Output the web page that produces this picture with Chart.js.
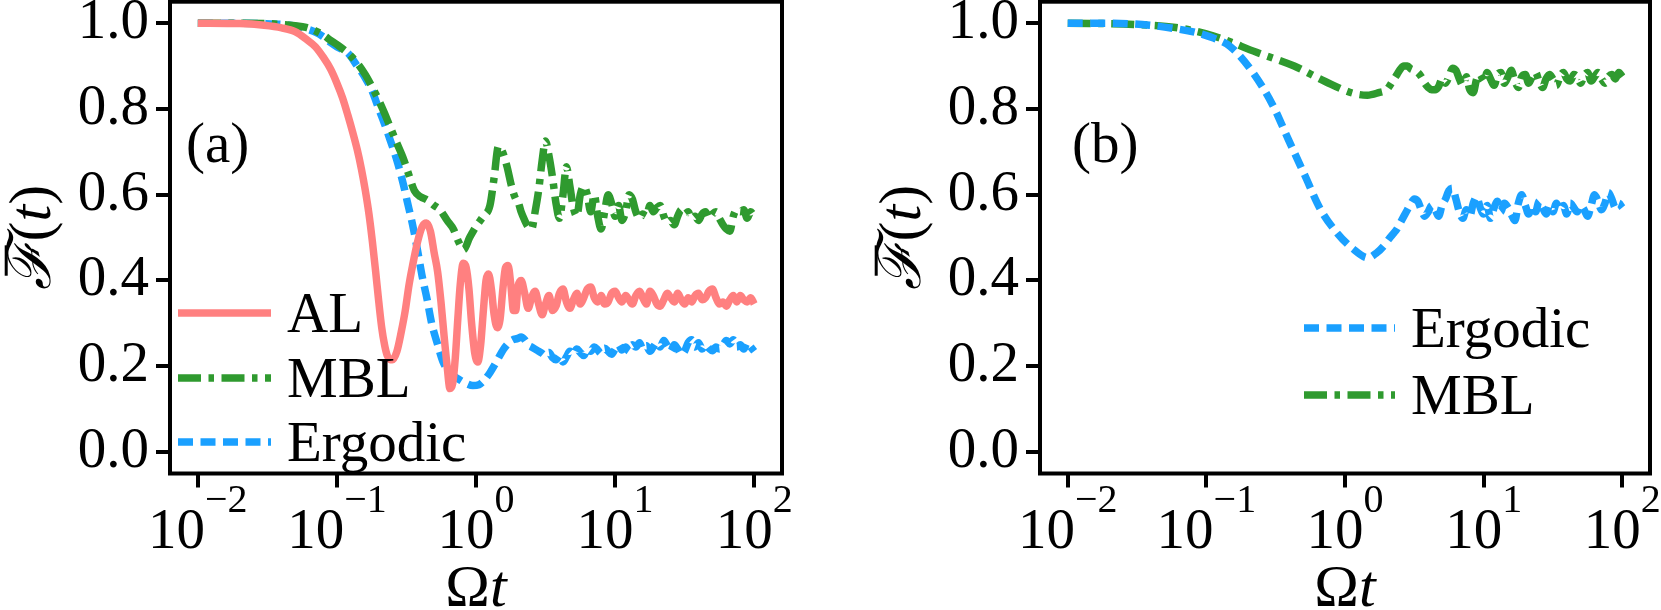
<!DOCTYPE html>
<html><head><meta charset="utf-8">
<script src="https://cdn.jsdelivr.net/npm/chart.js@4.4.1/dist/chart.umd.min.js"></script>
<style>
html,body{margin:0;padding:0;background:#fff;}
#wrap{position:relative;width:1661px;height:610px;overflow:hidden;background:#fff;}
canvas{position:absolute;top:0;}
</style></head><body>
<div id="wrap">
<canvas id="ca" width="830" height="610" style="left:0;width:830px;height:610px"></canvas>
<canvas id="cb" width="831" height="610" style="left:830px;width:831px;height:610px"></canvas>
</div>
<script>
// ---------- data ----------
const xTickValues = [0.01, 0.1, 1, 10, 100];
const yTickValues = [0.0, 0.2, 0.4, 0.6, 0.8, 1.0];

// common late-time sampling of Ωt (2 … 100)
const lateT = [2.0,2.11,2.24,2.37,2.51,2.66,2.82,2.99,3.16,3.35,3.55,3.76,3.98,4.22,4.47,4.73,5.01,5.31,5.62,5.96,6.31,6.68,7.08,7.5,7.94,8.41,8.91,9.44,10,10.6,11.2,11.9,12.6,13.3,14.1,15.0,15.8,16.8,17.8,18.8,20.0,21.1,22.4,23.7,25.1,26.6,28.2,29.9,31.6,33.5,35.5,37.6,39.8,42.2,44.7,47.3,50.1,53.1,56.2,59.6,63.1,66.8,70.8,75.0,79.4,84.1,89.1,94.4,100];

// panel (a) AL
const alEarlyT = [0.01,0.02,0.03,0.04,0.05,0.06,0.07,0.08,0.09,0.1,0.11,0.12,0.13,0.14,0.15,0.16,0.17,0.18,0.19,0.2,0.21,0.22,0.23,0.24,0.25,0.27,0.29,0.31,0.33,0.35,0.38,0.41,0.44,0.47,0.5,0.53,0.56,0.59,0.62,0.65,0.68,0.71,0.74,0.77,0.81,0.85,0.89,0.93,0.98,1.03,1.08,1.13,1.18,1.23,1.29,1.35,1.42,1.49,1.56,1.63,1.7,1.78,1.86,1.93];
const alEarlyF = [1.0,0.999,0.995,0.989,0.98,0.963,0.945,0.92,0.893,0.86,0.825,0.785,0.745,0.705,0.66,0.61,0.555,0.49,0.42,0.35,0.29,0.25,0.225,0.216,0.215,0.235,0.28,0.33,0.39,0.435,0.49,0.525,0.534,0.515,0.465,0.42,0.35,0.27,0.2,0.148,0.16,0.22,0.31,0.39,0.44,0.43,0.38,0.3,0.23,0.21,0.25,0.33,0.4,0.415,0.38,0.32,0.29,0.31,0.38,0.43,0.435,0.39,0.33,0.33];
const alLateF = [0.385,0.40,0.37,0.335,0.36,0.375,0.345,0.32,0.345,0.365,0.33,0.34,0.37,0.38,0.35,0.335,0.355,0.37,0.345,0.36,0.38,0.385,0.36,0.35,0.365,0.345,0.35,0.37,0.375,0.36,0.35,0.365,0.355,0.345,0.365,0.375,0.36,0.345,0.375,0.365,0.345,0.34,0.355,0.37,0.36,0.35,0.37,0.355,0.345,0.36,0.35,0.365,0.37,0.355,0.36,0.375,0.38,0.36,0.345,0.35,0.34,0.355,0.365,0.35,0.365,0.355,0.35,0.36,0.345];

// panel (a) MBL
const mblAEarlyT = [0.01,0.02,0.03,0.04,0.05,0.06,0.07,0.08,0.09,0.1,0.12,0.14,0.16,0.18,0.2,0.22,0.24,0.27,0.3,0.33,0.36,0.4,0.445,0.5,0.55,0.62,0.69,0.75,0.815,0.9,1.0,1.13,1.26,1.35,1.45,1.55,1.67,1.8,1.93];
const mblAEarlyF = [1.0,1.0,0.999,0.997,0.994,0.99,0.982,0.972,0.96,0.95,0.93,0.907,0.88,0.85,0.82,0.79,0.76,0.72,0.685,0.645,0.61,0.595,0.588,0.575,0.565,0.54,0.519,0.49,0.472,0.5,0.526,0.55,0.575,0.64,0.713,0.7,0.666,0.62,0.59];
const mblALateF = [0.585,0.56,0.54,0.525,0.52,0.56,0.61,0.68,0.725,0.69,0.64,0.58,0.545,0.6,0.665,0.62,0.57,0.55,0.6,0.62,0.6,0.56,0.6,0.55,0.52,0.56,0.6,0.58,0.55,0.575,0.54,0.56,0.6,0.59,0.56,0.545,0.555,0.55,0.575,0.56,0.57,0.575,0.55,0.535,0.54,0.53,0.55,0.565,0.555,0.56,0.545,0.55,0.54,0.555,0.56,0.545,0.555,0.56,0.545,0.53,0.52,0.515,0.55,0.565,0.56,0.565,0.545,0.56,0.55];

// panel (a) Ergodic
const ergAEarlyT = [0.01,0.02,0.03,0.04,0.05,0.06,0.07,0.08,0.09,0.1,0.12,0.14,0.16,0.18,0.2,0.22,0.24,0.27,0.3,0.32,0.35,0.38,0.41,0.445,0.48,0.525,0.58,0.65,0.75,0.85,0.95,1.05,1.15,1.26,1.4,1.58,1.8];
const ergAEarlyF = [1.0,1.0,0.999,0.997,0.993,0.987,0.979,0.968,0.955,0.945,0.93,0.9,0.872,0.84,0.8,0.765,0.73,0.68,0.625,0.585,0.53,0.47,0.41,0.356,0.3,0.255,0.21,0.185,0.17,0.16,0.155,0.157,0.168,0.185,0.21,0.24,0.26];
const ergALateF = [0.265,0.268,0.262,0.25,0.245,0.24,0.235,0.23,0.225,0.232,0.22,0.215,0.225,0.21,0.222,0.235,0.228,0.24,0.232,0.225,0.24,0.235,0.245,0.238,0.23,0.242,0.235,0.228,0.24,0.25,0.238,0.245,0.235,0.25,0.245,0.255,0.24,0.248,0.235,0.245,0.255,0.245,0.26,0.248,0.235,0.25,0.24,0.228,0.235,0.255,0.262,0.245,0.255,0.24,0.25,0.242,0.236,0.245,0.24,0.25,0.26,0.252,0.262,0.245,0.25,0.24,0.255,0.245,0.235];

// panel (b) Ergodic
const ergBEarlyT = [0.01,0.02,0.039,0.06,0.087,0.113,0.148,0.21,0.3,0.39,0.51,0.665,0.87,1.13,1.47,1.7,1.92];
const ergBEarlyF = [1.0,1.0,0.995,0.987,0.977,0.965,0.946,0.891,0.81,0.729,0.647,0.566,0.512,0.475,0.453,0.465,0.482];
const ergBLateF = [0.49,0.50,0.51,0.52,0.535,0.55,0.565,0.58,0.59,0.585,0.565,0.55,0.56,0.575,0.565,0.55,0.575,0.59,0.61,0.615,0.59,0.56,0.545,0.565,0.55,0.58,0.595,0.57,0.555,0.575,0.545,0.57,0.585,0.56,0.58,0.57,0.555,0.54,0.58,0.6,0.575,0.555,0.575,0.56,0.585,0.57,0.555,0.575,0.56,0.58,0.565,0.575,0.555,0.58,0.57,0.56,0.575,0.565,0.55,0.575,0.6,0.585,0.565,0.58,0.605,0.59,0.57,0.58,0.57];

// panel (b) MBL
const mblBEarlyT = [0.01,0.03,0.06,0.113,0.23,0.43,0.72,1.13,1.45,1.75];
const mblBEarlyF = [1.0,0.997,0.99,0.97,0.932,0.9,0.864,0.837,0.832,0.838];
const mblBLateF = [0.845,0.855,0.868,0.88,0.893,0.9,0.9,0.893,0.89,0.885,0.875,0.86,0.85,0.845,0.845,0.852,0.87,0.86,0.875,0.895,0.89,0.87,0.855,0.875,0.845,0.838,0.87,0.88,0.865,0.885,0.87,0.855,0.88,0.885,0.86,0.875,0.89,0.865,0.85,0.875,0.88,0.86,0.875,0.885,0.865,0.85,0.87,0.88,0.87,0.855,0.875,0.885,0.87,0.865,0.88,0.875,0.86,0.878,0.885,0.865,0.875,0.885,0.87,0.86,0.875,0.88,0.87,0.885,0.875];

// ---------- styles ----------
const COL_AL = '#ff8080', COL_MBL = '#2f9a2f', COL_ERG = '#1aa0ff';
const LW = 7.5;
const DASH_ERG = [15, 7.5];
const DASH_MBL = [23, 7.5, 5.5, 7.5];
const FONT = '"Liberation Serif", "DejaVu Serif", serif';

function pts(t, f) { return t.map((v, i) => ({x: v, y: f[i]})); }
function ds(label, t, f, color, dash) {
  return {label, data: pts(t, f), borderColor: color, borderWidth: LW, borderDash: dash,
    borderCapStyle: 'butt', borderJoinStyle: 'round',
    pointRadius: 0, fill: false, cubicInterpolationMode: 'monotone'};
}

const decor = {
  id: 'decor',
  afterDraw(chart, args, o) {
    const ctx = chart.ctx, ca = chart.chartArea, xs = chart.scales.x;
    ctx.save();
    ctx.strokeStyle = '#000'; ctx.lineWidth = 4; ctx.setLineDash([]);
    ctx.strokeRect(ca.left, ca.top, ca.right - ca.left, ca.bottom - ca.top);
    ctx.fillStyle = '#000'; ctx.textBaseline = 'alphabetic'; ctx.textAlign = 'left';
    // x tick labels 10^n
    for (const t of xs.ticks) {
      const px = xs.getPixelForValue(t.value);
      const e = Math.round(Math.log10(t.value));
      const base = '10', sup = (e < 0 ? '\u2212' : '') + Math.abs(e);
      ctx.font = o.fs + 'px ' + FONT; const wb = ctx.measureText(base).width;
      ctx.font = o.sfs + 'px ' + FONT; const ws = ctx.measureText(sup).width;
      const x0 = px - (wb + ws) / 2;
      ctx.font = o.fs + 'px ' + FONT; ctx.fillText(base, x0, o.xLabBase);
      ctx.font = o.sfs + 'px ' + FONT; ctx.fillText(sup, x0 + wb, o.supBase);
    }
    // x title: Ωt
    {
      const cx = (ca.left + ca.right) / 2;
      ctx.font = o.tfs + 'px ' + FONT; const w1 = ctx.measureText('\u03A9').width;
      ctx.font = 'italic ' + o.tfs + 'px ' + FONT; const w2 = ctx.measureText('t').width;
      const x0 = cx - (w1 + w2) / 2;
      ctx.font = o.tfs + 'px ' + FONT; ctx.fillText('\u03A9', x0, o.xTitleBase);
      ctx.font = 'italic ' + o.tfs + 'px ' + FONT; ctx.fillText('t', x0 + w1, o.xTitleBase);
    }
    // y title: F̄(t)
    {
      const cy = (ca.top + ca.bottom) / 2;
      ctx.save();
      ctx.translate(ca.left - o.yTitleOff, cy);
      ctx.rotate(-Math.PI / 2);
      const parts = [['\u2131', 'italic '], ['(', ''], ['t', 'italic '], [')', '']];
      let tot = 0; const ws = [];
      for (const [s, st] of parts) { ctx.font = st + o.tfs + 'px ' + FONT; const w = ctx.measureText(s).width; ws.push(w); tot += w; }
      let x = -tot / 2;
      // overbar of F
      ctx.fillRect(x + ws[0] * 0.3, -0.755 * o.tfs, ws[0] * 0.62, 3);
      parts.forEach(([s, st], i) => { ctx.font = st + o.tfs + 'px ' + FONT; ctx.fillText(s, x, 0); x += ws[i]; });
      ctx.restore();
    }
    // panel label
    ctx.font = o.fs + 'px ' + FONT;
    ctx.fillText(o.panel, o.panelX, o.panelBase);
    // legend
    chart.data.datasets.forEach((d, i) => {
      const y = o.legY[i];
      ctx.save();
      ctx.strokeStyle = d.borderColor; ctx.lineWidth = LW;
      ctx.setLineDash(d.borderDash); ctx.lineCap = 'butt';
      ctx.beginPath(); ctx.moveTo(o.legX0, y); ctx.lineTo(o.legX1, y); ctx.stroke();
      ctx.restore();
      ctx.font = o.fs + 'px ' + FONT;
      ctx.fillText(d.label, o.legTextX, y + 0.331 * o.fs);
    });
    ctx.restore();
  }
};

function makeChart(id, datasets, padRight, yWidth, deco) {
  return new Chart(document.getElementById(id), {
    type: 'line',
    data: {datasets},
    plugins: [decor],
    options: {
      responsive: false, animation: false, devicePixelRatio: 1,
      layout: {padding: {left: 0, right: padRight, top: 1.7, bottom: 0}},
      plugins: {legend: {display: false}, tooltip: {enabled: false}, decor: deco},
      scales: {
        x: {
          type: 'logarithmic', min: Math.pow(10, -2.2), max: Math.pow(10, 2.2),
          afterBuildTicks: s => { s.ticks = xTickValues.map(v => ({value: v})); },
          ticks: {display: false},
          grid: {drawOnChartArea: false, drawTicks: true, tickLength: 14, lineWidth: 4, color: '#000'},
          border: {display: false},
          afterFit: s => { s.height = 610 - 473.5; s.paddingLeft = 0; s.paddingRight = 0; s.paddingTop = 0; s.paddingBottom = 0; }
        },
        y: {
          type: 'linear', min: -0.05, max: 1.05,
          afterBuildTicks: s => { s.ticks = yTickValues.map(v => ({value: v})); },
          ticks: {callback: v => Number(v).toFixed(1), font: {family: FONT, size: 57}, color: '#000', padding: 7, autoSkip: false},
          grid: {drawOnChartArea: false, drawTicks: true, tickLength: 14, lineWidth: 4, color: '#000'},
          border: {display: false},
          afterFit: s => { s.width = yWidth; s.paddingLeft = 0; s.paddingRight = 0; s.paddingTop = 0; s.paddingBottom = 0; }
        }
      }
    }
  });
}

const common = {fs: 57, sfs: 40, tfs: 60, xLabBase: 548, supBase: 512, xTitleBase: 606, yTitleOff: 120};

makeChart('ca', [
  ds('AL', alEarlyT.concat(lateT), alEarlyF.concat(alLateF), COL_AL, []),
  ds('MBL', mblAEarlyT.concat(lateT), mblAEarlyF.concat(mblALateF), COL_MBL, DASH_MBL),
  ds('Ergodic', ergAEarlyT.concat(lateT), ergAEarlyF.concat(ergALateF), COL_ERG, DASH_ERG)
], 48, 170, Object.assign({}, common, {panel: '(a)', panelX: 186, panelBase: 162, legX0: 178, legX1: 271, legTextX: 287, legY: [313, 378, 442]}));

makeChart('cb', [
  ds('Ergodic', ergBEarlyT.concat(lateT), ergBEarlyF.concat(ergBLateF), COL_ERG, DASH_ERG),
  ds('MBL', mblBEarlyT.concat(lateT), mblBEarlyF.concat(mblBLateF), COL_MBL, DASH_MBL)
], 11, 210, Object.assign({}, common, {panel: '(b)', panelX: 242, panelBase: 162, legX0: 474, legX1: 565, legTextX: 581, legY: [328, 395]}));
</script>
</body></html>
